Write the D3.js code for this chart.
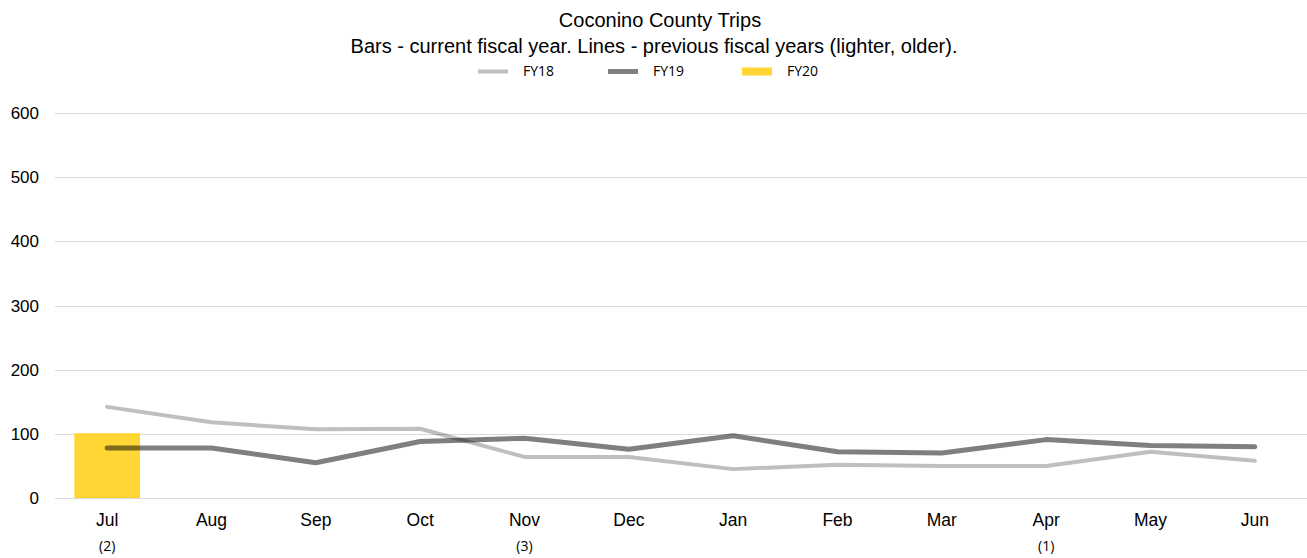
<!DOCTYPE html>
<html>
<head>
<meta charset="utf-8">
<script src="https://cdn.jsdelivr.net/npm/d3@7"></script>
<style>
  body { margin: 0; background: #fff; }
  svg { display: block; }
</style>
</head>
<body>
<div id="chart"></div>
<script>
// --- data ---
const months = ["Jul", "Aug", "Sep", "Oct", "Nov", "Dec", "Jan", "Feb", "Mar", "Apr", "May", "Jun"];
const subLabels = ["(2)", "", "", "", "(3)", "", "", "", "", "(1)", "", ""];
const fy18 = [142, 118, 107, 108, 64, 64, 45, 52, 50, 50, 72, 58];
const fy19 = [78, 78, 55, 88, 93, 76, 97, 72, 70, 91, 82, 80];
const fy20 = [101, null, null, null, null, null, null, null, null, null, null, null];
const yTicks = [0, 100, 200, 300, 400, 500, 600];

const width = 1307, height = 558;
const margin = { top: 113, right: 0, bottom: 60, left: 55 };

const svg = d3.select("#chart").append("svg")
    .attr("width", width)
    .attr("height", height);

const x = d3.scaleBand()
    .domain(months)
    .range([margin.left, width - margin.right])
    .paddingInner(0.37)
    .paddingOuter(0.185);

const y = d3.scaleLinear()
    .domain([0, 600])
    .range([height - margin.bottom, margin.top]);

const cx = m => x(m) + x.bandwidth() / 2;

// --- titles ---
svg.append("text")
    .attr("x", 660).attr("y", 27)
    .attr("text-anchor", "middle")
    .style("font-family", "Liberation Sans, Arial, sans-serif")
    .style("font-size", "20px")
    .style("fill", "#000")
    .text("Coconino County Trips");

svg.append("text")
    .attr("x", 654).attr("y", 53)
    .attr("text-anchor", "middle")
    .style("font-family", "Liberation Sans, Arial, sans-serif")
    .style("font-size", "20px")
    .style("fill", "#000")
    .text("Bars - current fiscal year. Lines - previous fiscal years (lighter, older).");

// --- legend ---
const legend = svg.append("g").attr("class", "legend");
const legendItems = [
    { name: "FY18", x: 478, type: "line", color: "rgba(0,0,0,0.25)", w: 4 },
    { name: "FY19", x: 608, type: "line", color: "rgba(0,0,0,0.5)", w: 5 },
    { name: "FY20", x: 742, type: "rect", color: "#ffd633", w: 8 }
];
legendItems.forEach(d => {
    if (d.type === "line") {
        legend.append("line")
            .attr("x1", d.x).attr("x2", d.x + 30)
            .attr("y1", 71.5).attr("y2", 71.5)
            .style("stroke", d.color)
            .style("stroke-width", d.w);
    } else {
        legend.append("rect")
            .attr("x", d.x).attr("y", 67.5)
            .attr("width", 30).attr("height", d.w)
            .style("fill", d.color);
    }
    legend.append("text")
        .attr("x", d.x + 45).attr("y", 76)
        .style("font-family", "Open Sans, sans-serif")
        .style("font-size", "14px")
        .style("fill", "#000")
        .text(d.name);
});

// --- gridlines + y labels ---
const grid = svg.append("g").attr("class", "grid");
grid.selectAll("line")
    .data(yTicks)
    .join("line")
    .attr("x1", margin.left).attr("x2", width - margin.right)
    .attr("y1", d => Math.round(y(d)) + 0.5)
    .attr("y2", d => Math.round(y(d)) + 0.5)
    .style("stroke", "#d9d9d9")
    .style("stroke-width", 1);

svg.append("g")
    .selectAll("text")
    .data(yTicks)
    .join("text")
    .attr("x", 39)
    .attr("y", d => y(d) + 6)
    .attr("text-anchor", "end")
    .style("font-family", "Liberation Sans, Arial, sans-serif")
    .style("font-size", "17px")
    .style("fill", "#000")
    .text(d => d);

// --- x labels ---
svg.append("g")
    .selectAll("text")
    .data(months)
    .join("text")
    .attr("x", d => cx(d))
    .attr("y", 526)
    .attr("text-anchor", "middle")
    .style("font-family", "Liberation Sans, Arial, sans-serif")
    .style("font-size", "17.5px")
    .style("fill", "#000")
    .text(d => d);

svg.append("g")
    .selectAll("text")
    .data(months.map((m, i) => ({ m, t: subLabels[i] })).filter(d => d.t))
    .join("text")
    .attr("x", d => cx(d.m))
    .attr("y", 551)
    .attr("text-anchor", "middle")
    .style("font-family", "Open Sans, sans-serif")
    .style("font-size", "14px")
    .style("fill", "#000")
    .text(d => d.t);

// --- bars (current fiscal year) ---
svg.append("g")
    .selectAll("rect")
    .data(months.map((m, i) => ({ m, v: fy20[i] })).filter(d => d.v != null))
    .join("rect")
    .attr("x", d => x(d.m))
    .attr("y", d => y(d.v))
    .attr("width", x.bandwidth())
    .attr("height", d => y(0) - y(d.v))
    .style("fill", "#ffd633");

// --- lines (previous fiscal years) ---
const line = d3.line()
    .x((d, i) => cx(months[i]))
    .y(d => y(d));

[
    { values: fy18, color: "rgba(0,0,0,0.25)", w: 4 },
    { values: fy19, color: "rgba(0,0,0,0.5)", w: 5 }
].forEach(s => {
    svg.append("path")
        .datum(s.values)
        .attr("d", line)
        .style("fill", "none")
        .style("stroke", s.color)
        .style("stroke-width", s.w)
        .style("stroke-linecap", "round")
        .style("stroke-linejoin", "round");
});
</script>
</body>
</html>
